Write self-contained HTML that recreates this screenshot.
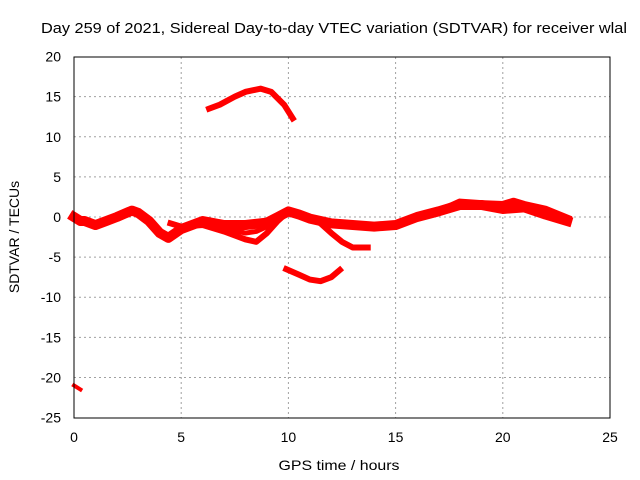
<!DOCTYPE html>
<html><head><meta charset="utf-8"><style>
body{margin:0;background:#fff}
svg{display:block;font-family:"Liberation Sans",sans-serif}
</style></head><body>
<svg id="chart" width="640" height="480" viewBox="0 0 640 480">
<text x="41" y="33" font-size="15" textLength="586" lengthAdjust="spacingAndGlyphs">Day 259 of 2021, Sidereal Day-to-day VTEC variation (SDTVAR) for receiver wlal</text>
<g id="grid"></g>
<g id="series"></g>
<rect x="74" y="57" width="536" height="361" fill="none" stroke="#000" stroke-width="1"/>
<g id="ticks" font-size="14"></g>
<text x="339" y="470" font-size="14" text-anchor="middle" textLength="121" lengthAdjust="spacingAndGlyphs">GPS time / hours</text>
<text transform="translate(19,237) rotate(-90)" font-size="14" text-anchor="middle">SDTVAR / TECUs</text>
</svg>
<script>
const xTicks=[0,5,10,15,20,25];
const yTicks=[20,15,10,5,0,-5,-10,-15,-20,-25];
const sMainX=[0,0.3,0.5,1,1.5,2,2.7,3,3.5,4,4.4,5,6,7,8,9,9.5,10,10.5,11,12,13,14,15,16,17,18,19,20,21,22,23];
const sMainY=[0,-0.5,-0.5,-1,-0.5,0,0.8,0.5,-0.5,-2,-2.6,-1.5,-0.5,-1,-1,-0.7,0,0.7,0.3,-0.2,-0.8,-1,-1.2,-1,0,0.7,1.5,1.5,1,1.2,0.3,-0.5];
const sLowX=[4.5,5,6,7,8,8.5,9,9.5,10];
const sLowY=[-0.8,-1.2,-1,-1.8,-2.8,-3.1,-2,-0.5,0.7];
const sLow2X=[6,7,8,8.5,9,9.5];
const sLow2Y=[-0.6,-1.4,-2,-1.8,-1.2,-0.3];
const sDipX=[11.5,12,12.5,13,13.7];
const sDipY=[-0.8,-2,-3.1,-3.8,-3.8];
const sUpX=[17.5,18,19,20,20.5,21,22,23];
const sUpY=[1.2,1.8,1.6,1.5,1.9,1.5,0.9,-0.2];
const sArcX=[6.3,6.8,7.5,8,8.7,9.2,9.8,10.2];
const sArcY=[13.5,14,15,15.6,16,15.6,14,12.3];
const sLowArcX=[9.9,10.5,11,11.5,12,12.4];
const sLowArcY=[-6.5,-7.2,-7.8,-8,-7.5,-6.6];
const sTailX=[0,0.3];
const sTailY=[-21,-21.5];
const X=v=>74+v*536/25, Y=v=>217-v*361/45;
const NS="http://www.w3.org/2000/svg";
const grid=document.getElementById('grid'),ticks=document.getElementById('ticks'),ser=document.getElementById('series');
function mk(t,a,p){const e=document.createElementNS(NS,t);for(const k in a)e.setAttribute(k,a[k]);p.appendChild(e);return e;}
xTicks.forEach(v=>{
 if(v>0&&v<25){const g=mk('line',{x1:X(v),x2:X(v),y1:57,y2:418,stroke:'#a0a0a0','stroke-dasharray':'2,3'},grid);
 
 }
 const t=mk('text',{x:X(v),y:442,'text-anchor':'middle'},ticks);t.textContent=v;
 
 
});
yTicks.forEach(v=>{
 if(v<20&&v>-25){const g=mk('line',{x1:74,x2:610,y1:Y(v),y2:Y(v),stroke:'#a0a0a0','stroke-dasharray':'2,3'},grid);
 
 }
 const t=mk('text',{x:61,y:Y(v)+5,'text-anchor':'end'},ticks);t.textContent=v;
 
 
});
[[sMainX,sMainY,10],[sLowX,sLowY,6],[sLow2X,sLow2Y,5],[sDipX,sDipY,6],[sUpX,sUpY,8],[sArcX,sArcY,6],[sLowArcX,sLowArcY,6],[sTailX,sTailY,4]].forEach(([xs,ys,w])=>{
 const pts=xs.map((x,i)=>X(x)+','+Y(ys[i])).join(' ');
 const p=mk('polyline',{points:pts,fill:'none',stroke:'#ff0000','stroke-width':w,'stroke-linejoin':'round','stroke-linecap':'square'},ser);
 
 
});
</script>
</body></html>
